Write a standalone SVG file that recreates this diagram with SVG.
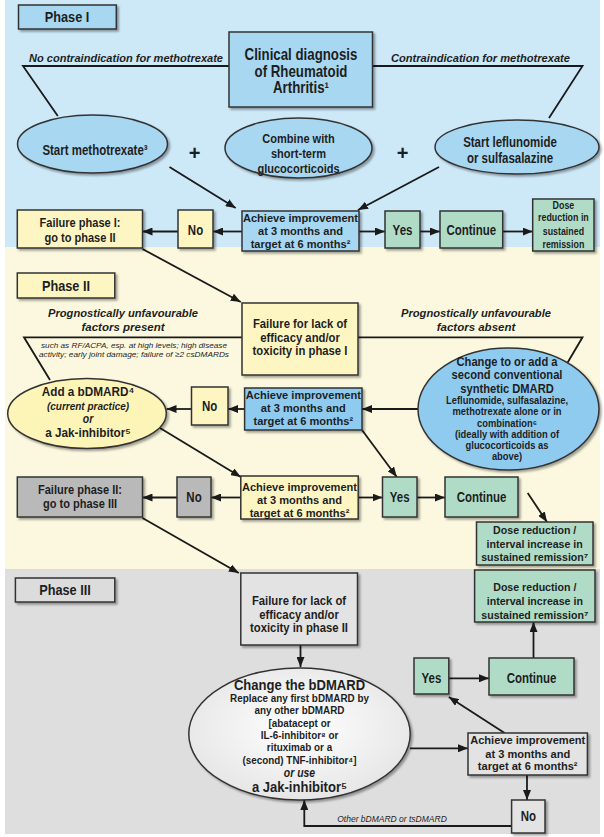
<svg xmlns="http://www.w3.org/2000/svg" width="604" height="837" viewBox="0 0 604 837">
<defs>
<marker id="ah" viewBox="0 0 10 8" refX="10" refY="4" markerWidth="10" markerHeight="8" markerUnits="userSpaceOnUse" orient="auto"><path d="M0,0 L10,4 L0,8 z" fill="#1a1a1a"/></marker>
<filter id="sh" x="-10%" y="-10%" width="130%" height="130%"><feDropShadow dx="2" dy="2" stdDeviation="1.2" flood-color="#000" flood-opacity="0.35"/></filter>
<radialGradient id="gw" cx="50%" cy="45%" r="60%"><stop offset="0" stop-color="#ffffff"/><stop offset="1" stop-color="#e4e4e4"/></radialGradient>
<style>
text{font-family:"Liberation Sans",Arial,sans-serif;font-weight:bold;fill:#1e1e1e;text-anchor:middle}
.bx{stroke:#333;stroke-width:1.5;filter:url(#sh)}
.blue{fill:#a7d7f1}
.blue2{fill:#8fcbef}
.yel{fill:#fdf6c3}
.grn{fill:#b0dcc7}
.gry{fill:#b9b9b9}
.lgry{fill:#e3e3e3}
.c{fill:none;stroke:#1a1a1a;stroke-width:1.8}
.ca{marker-end:url(#ah)}
.it{font-style:italic}
.f15{font-size:15px}.f14{font-size:14px}.f13{font-size:13px}.f12{font-size:11.8px}.f10{font-size:10.2px}
</style>
</defs>
<rect width="604" height="837" fill="#ffffff"/>
<rect x="5" y="0" width="595" height="247" fill="#cde8f7"/>
<rect x="5" y="247" width="595" height="322" fill="#fbf8df"/>
<rect x="5" y="569" width="595" height="265" fill="#dedede"/>

<g id="connectors">
<polyline class="c" points="57.8,116 23,66 229,66"/>
<polyline class="c" points="372.5,66 582.5,66 549,118"/>
<line class="c ca" x1="169.5" y1="167" x2="235.7" y2="208"/>
<line class="c ca" x1="439" y1="167" x2="358" y2="210"/>
<line class="c ca" x1="242" y1="231.5" x2="213" y2="231.5"/>
<line class="c ca" x1="178" y1="231.5" x2="142.5" y2="231.5"/>
<line class="c ca" x1="359" y1="231.5" x2="385" y2="231.5"/>
<line class="c ca" x1="420" y1="231.5" x2="440" y2="231.5"/>
<line class="c ca" x1="502.7" y1="231.5" x2="532.7" y2="231.5"/>
<line class="c ca" x1="142.5" y1="249" x2="240.8" y2="302"/>
<polyline class="c" points="50,380 24,337.3 242,337.3"/>
<polyline class="c" points="358,337.3 582.5,337.3 558.5,378"/>
<line class="c ca" x1="418" y1="409" x2="362" y2="409"/>
<line class="c ca" x1="244.6" y1="409" x2="228" y2="409"/>
<line class="c ca" x1="191.5" y1="409" x2="166.5" y2="409"/>
<line class="c ca" x1="160" y1="428" x2="240.8" y2="477"/>
<line class="c ca" x1="362" y1="430" x2="396.8" y2="477"/>
<line class="c ca" x1="240.8" y1="497.5" x2="211" y2="497.5"/>
<line class="c ca" x1="177" y1="497.5" x2="142.5" y2="497.5"/>
<line class="c ca" x1="358.2" y1="497.5" x2="382.5" y2="497.5"/>
<line class="c ca" x1="417" y1="497.5" x2="445" y2="497.5"/>
<line class="c ca" x1="527.7" y1="493" x2="547" y2="522"/>
<line class="c ca" x1="142.5" y1="518" x2="238.8" y2="573"/>
<line class="c ca" x1="300.5" y1="645" x2="300.5" y2="667"/>
<line class="c ca" x1="533.5" y1="658" x2="533.5" y2="622"/>
<line class="c ca" x1="448.8" y1="678.3" x2="489" y2="678.3"/>
<line class="c ca" x1="410" y1="748.3" x2="468" y2="748.3"/>
<line class="c ca" x1="504.6" y1="733" x2="448.8" y2="697"/>
<line class="c ca" x1="527" y1="775" x2="527" y2="800"/>
<polyline class="c ca" points="511.6,826 304.3,826 304.3,800"/>
<text class="it" x="126" y="62" style="font-size:11px" textLength="194" lengthAdjust="spacingAndGlyphs">No contraindication for methotrexate</text>
<text class="it" x="480.5" y="62" style="font-size:11px" textLength="179" lengthAdjust="spacingAndGlyphs">Contraindication for methotrexate</text>
<text class="it" x="123" y="317" style="font-size:11.5px" textLength="150" lengthAdjust="spacingAndGlyphs">Prognostically unfavourable</text>
<text class="it" x="123" y="331" style="font-size:11.5px">factors present</text>
<text class="it" x="476" y="317" style="font-size:11.5px" textLength="150" lengthAdjust="spacingAndGlyphs">Prognostically unfavourable</text>
<text class="it" x="476" y="331" style="font-size:11.5px">factors absent</text>
<text class="it" x="134" y="348" style="font-size:8px;font-weight:normal" textLength="186" lengthAdjust="spacingAndGlyphs">such as RF/ACPA, esp. at high levels; high disease</text>
<text class="it" x="134" y="356.5" style="font-size:8px;font-weight:normal" textLength="190" lengthAdjust="spacingAndGlyphs">activity; early joint damage;   failure of ≥2 csDMARDs</text>
<text class="it" x="392" y="822" style="font-size:8.5px;font-weight:normal">Other bDMARD or tsDMARD</text>
<text x="194.5" y="160" style="font-size:20px">+</text>
<text x="402.5" y="160" style="font-size:20px">+</text>
</g>

<g id="phase1-label"><rect class="bx blue" x="18.5" y="5" width="97.8" height="24"/><g transform="translate(67 0) scale(0.85 1)"><text class="f15" x="0" y="22.5">Phase I</text></g></g>
<g id="clinical"><rect class="bx blue" x="229" y="32" width="143.5" height="75"/><g transform="translate(301 0) scale(0.83 1)"><text x="0" y="60" style="font-size:16px">Clinical diagnosis</text><text x="0" y="77" style="font-size:16px">of Rheumatoid</text><text x="0" y="93.5" style="font-size:16px">Arthritis¹</text></g></g>
<g id="mtx"><ellipse class="bx blue" cx="92.5" cy="144" rx="75" ry="29"/><g transform="translate(95 0) scale(0.82 1)"><text class="f14" x="0" y="155">Start methotrexate³</text></g></g>
<g id="gc"><ellipse class="bx blue" cx="298.5" cy="148" rx="73.5" ry="30"/><g transform="translate(298.5 0) scale(0.85 1)"><text class="f13" x="0" y="143">Combine with</text><text class="f13" x="0" y="158">short-term</text><text class="f13" x="0" y="173">glucocorticoids</text></g></g>
<g id="lef"><ellipse class="bx blue" cx="517" cy="147" rx="82" ry="27"/><g transform="translate(510 0) scale(0.82 1)"><text class="f14" x="0" y="147">Start leflunomide</text><text class="f14" x="0" y="163">or sulfasalazine</text></g></g>
<g id="fail1"><rect class="bx yel" x="17.3" y="210" width="125.2" height="38"/><g transform="translate(80 0) scale(0.85 1)"><text class="f13" x="0" y="227.5">Failure phase I:</text><text class="f13" x="0" y="242.5">go to phase II</text></g></g>
<g id="no1"><rect class="bx yel" x="178" y="210" width="35" height="38"/><g transform="translate(195.5 0) scale(0.82 1)"><text class="f14" x="0" y="235">No</text></g></g>
<g id="ach1"><rect class="bx blue" x="242" y="211" width="117" height="40"/><g transform="translate(300.5 0) scale(0.94 1)"><text class="f12" x="0" y="222.5">Achieve improvement</text><text class="f12" x="0" y="235.5">at 3 months and</text><text class="f12" x="0" y="248">target at 6 months²</text></g></g>
<g id="yes1"><rect class="bx grn" x="385" y="211" width="35" height="37"/><g transform="translate(402.5 0) scale(0.82 1)"><text class="f14" x="0" y="235">Yes</text></g></g>
<g id="cont1"><rect class="bx grn" x="440" y="211" width="62.7" height="37"/><g transform="translate(471.3 0) scale(0.82 1)"><text class="f14" x="0" y="235">Continue</text></g></g>
<g id="dose1"><rect class="bx grn" x="532.7" y="199" width="61.3" height="52"/><g transform="translate(563.4 0) scale(0.87 1)"><text class="f10" x="0" y="209">Dose</text><text class="f10" x="0" y="221.5">reduction in</text><text class="f10" x="0" y="235.5">sustained</text><text class="f10" x="0" y="248.5">remission</text></g></g>

<g id="phase2-label"><rect class="bx yel" x="17.3" y="273" width="97.5" height="25"/><g transform="translate(66 0) scale(0.85 1)"><text class="f15" x="0" y="291">Phase II</text></g></g>
<g id="fail-lack1"><rect class="bx yel" x="242" y="303" width="116" height="72"/><g transform="translate(300 0) scale(0.87 1)"><text class="f13" x="0" y="328.5">Failure for lack of</text><text class="f13" x="0" y="342">efficacy and/or</text><text class="f13" x="0" y="355.5">toxicity in phase I</text></g></g>
<g id="bdmard"><ellipse class="bx" fill="#fdf4b8" cx="87" cy="413.5" rx="79.3" ry="35"/><g transform="translate(88 0) scale(0.87 1)"><text x="0" y="396.5" style="font-size:13.5px">Add a bDMARD⁴</text><text class="it" x="0" y="410" style="font-size:11.5px">(current practice)</text><text class="it" x="0" y="423.5" style="font-size:12px">or</text><text x="0" y="437" style="font-size:13.5px">a Jak-inhibitor⁵</text></g></g>
<g id="no2a"><rect class="bx yel" x="191.5" y="387" width="36.5" height="38"/><g transform="translate(209.7 0) scale(0.82 1)"><text class="f14" x="0" y="411">No</text></g></g>
<g id="ach2a"><rect class="bx blue2" x="244.6" y="388" width="117.4" height="42"/><g transform="translate(303.3 0) scale(0.94 1)"><text class="f12" x="0" y="399.5">Achieve improvement</text><text class="f12" x="0" y="412.5">at 3 months and</text><text class="f12" x="0" y="425">target at 6 months²</text></g></g>
<g id="csdmard"><ellipse class="bx blue2" cx="508.5" cy="409" rx="90.5" ry="61"/><g transform="translate(507 0) scale(0.93 1)"><text x="0" y="366" style="font-size:12px">Change to or add a</text><text x="0" y="379.5" style="font-size:12px">second conventional</text><text x="0" y="393" style="font-size:12px">synthetic DMARD</text></g><g transform="translate(507 0) scale(0.92 1)"><text class="f10" x="0" y="404">Leflunomide, sulfasalazine,</text><text class="f10" x="0" y="415.5">methotrexate alone or in</text><text class="f10" x="0" y="427">combination⁶</text><text class="f10" x="0" y="438">(ideally with addition of</text><text class="f10" x="0" y="449">glucocorticoids as</text><text class="f10" x="0" y="460">above)</text></g></g>
<g id="fail2"><rect class="bx gry" x="17.3" y="477" width="125.2" height="40"/><g transform="translate(80 0) scale(0.85 1)"><text class="f13" x="0" y="494.5">Failure phase II:</text><text class="f13" x="0" y="508.5">go to phase III</text></g></g>
<g id="no2b"><rect class="bx gry" x="177" y="477" width="34" height="40"/><g transform="translate(194 0) scale(0.82 1)"><text class="f14" x="0" y="502">No</text></g></g>
<g id="ach2b"><rect class="bx yel" x="240.8" y="476" width="117.4" height="43"/><g transform="translate(299.5 0) scale(0.94 1)"><text class="f12" x="0" y="491.5">Achieve improvement</text><text class="f12" x="0" y="504.5">at 3 months and</text><text class="f12" x="0" y="517">target at 6 months²</text></g></g>
<g id="yes2"><rect class="bx grn" x="382.5" y="477" width="34.5" height="40"/><g transform="translate(399.7 0) scale(0.82 1)"><text class="f14" x="0" y="502">Yes</text></g></g>
<g id="cont2"><rect class="bx grn" x="445" y="477" width="73" height="40"/><g transform="translate(481.5 0) scale(0.82 1)"><text class="f14" x="0" y="502">Continue</text></g></g>
<g id="dose2"><rect class="bx grn" x="476.5" y="522" width="116.5" height="43"/><g transform="translate(534.7 0) scale(0.9 1)"><text class="f12" x="0" y="534.5">Dose reduction /</text><text class="f12" x="0" y="548">interval increase in</text><text class="f12" x="0" y="561">sustained remission⁷</text></g></g>

<g id="phase3-label"><rect class="bx" fill="#dcdcdc" x="15.4" y="578" width="99.4" height="24"/><g transform="translate(65 0) scale(0.85 1)"><text class="f15" x="0" y="595.5">Phase III</text></g></g>
<g id="fail-lack2"><rect class="bx lgry" x="240.8" y="573" width="116.7" height="72"/><g transform="translate(299 0) scale(0.87 1)"><text class="f13" x="0" y="605.5">Failure for lack of</text><text class="f13" x="0" y="619">efficacy and/or</text><text class="f13" x="0" y="632.5">toxicity in phase II</text></g></g>
<g id="change"><ellipse class="bx" fill="url(#gw)" cx="299.5" cy="734" rx="110.7" ry="66"/><g transform="translate(299.5 0) scale(0.87 1)"><text x="0" y="690" style="font-size:15px">Change the bDMARD</text><text class="it" x="0" y="777" style="font-size:12px">or use</text><text x="0" y="792" style="font-size:15px">a Jak-inhibitor⁵</text></g><g transform="translate(299.5 0) scale(0.97 1)"><text class="f10" x="0" y="702.5">Replace any first bDMARD by</text><text class="f10" x="0" y="714.5">any other bDMARD</text><text class="f10" x="0" y="727">[abatacept or</text><text class="f10" x="0" y="739">IL-6-inhibitor⁸ or</text><text class="f10" x="0" y="751.5">rituximab or a</text><text class="f10" x="0" y="764">(second) TNF-inhibitor⁴]</text></g></g>
<g id="dose3"><rect class="bx grn" x="474.6" y="570" width="120.4" height="52"/><g transform="translate(534.8 0) scale(0.9 1)"><text class="f12" x="0" y="591">Dose reduction /</text><text class="f12" x="0" y="605.5">interval increase in</text><text class="f12" x="0" y="619">sustained remission⁷</text></g></g>
<g id="yes3"><rect class="bx grn" x="414" y="658" width="34.8" height="36"/><g transform="translate(431.4 0) scale(0.82 1)"><text class="f14" x="0" y="683">Yes</text></g></g>
<g id="cont3"><rect class="bx grn" x="489" y="658" width="85" height="37"/><g transform="translate(531.5 0) scale(0.82 1)"><text class="f14" x="0" y="683">Continue</text></g></g>
<g id="ach3"><rect class="bx lgry" x="468" y="733" width="119.4" height="42"/><g transform="translate(527.7 0) scale(0.94 1)"><text class="f12" x="0" y="744.5">Achieve improvement</text><text class="f12" x="0" y="758">at 3 months and</text><text class="f12" x="0" y="770.5">target at 6 months²</text></g></g>
<g id="no3"><rect class="bx lgry" x="511.6" y="800" width="33.4" height="33"/><g transform="translate(528.3 0) scale(0.82 1)"><text class="f14" x="0" y="821">No</text></g></g>
</svg>
